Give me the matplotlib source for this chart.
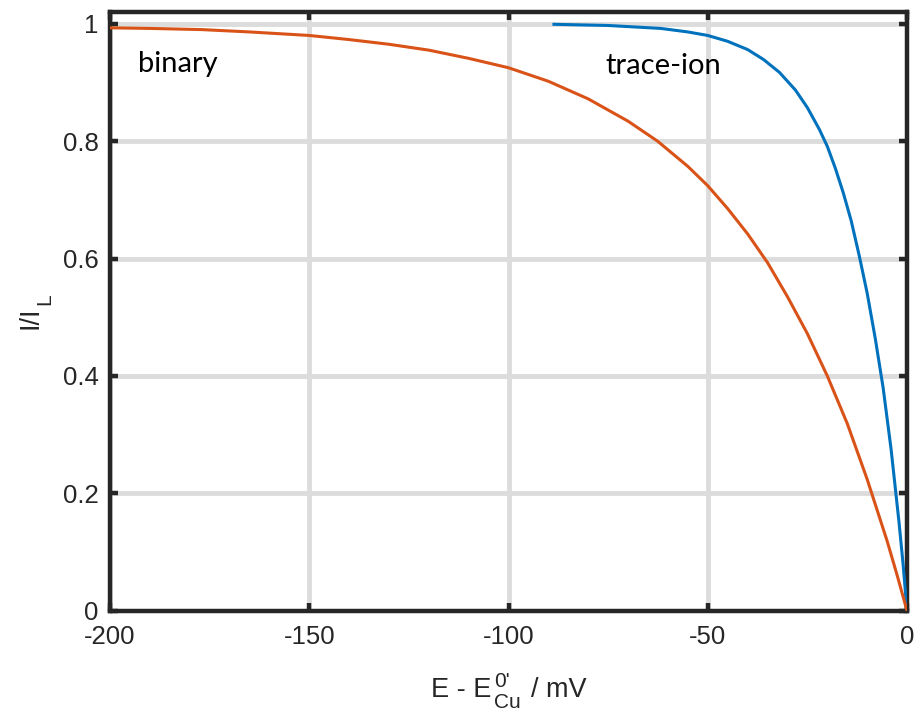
import numpy as np
import matplotlib
matplotlib.use("Agg")
import matplotlib.pyplot as plt
from matplotlib.transforms import IdentityTransform

# curva "binary"
x_bin = [-200, -190, -177, -165, -150, -140, -130, -120, -110, -100, -90, -80, -70,
         -62.6, -55, -50, -45, -40, -35, -30, -25, -20, -15, -10, -5, -2.5, 0]
y_bin = [0.993, 0.992, 0.990, 0.986, 0.980, 0.973, 0.965, 0.955, 0.941, 0.925, 0.902,
         0.872, 0.834, 0.800, 0.757, 0.724, 0.685, 0.642, 0.593, 0.535, 0.472, 0.400,
         0.319, 0.224, 0.119, 0.061, 0.0]

# curva "trace-ion"
x_tr = [-88.6, -75, -61.8, -55, -50, -45, -40, -36, -32, -28, -25, -22, -20, -18,
        -16, -14, -12, -10, -8, -6, -4, -2, -1, 0]
y_tr = [0.999, 0.997, 0.992, 0.986, 0.980, 0.970, 0.956, 0.939, 0.917, 0.887, 0.857,
        0.820, 0.791, 0.754, 0.712, 0.664, 0.605, 0.541, 0.465, 0.380, 0.275, 0.150,
        0.080, 0.0]

xticks = [-200, -150, -100, -50, 0]
yticks = [0, 0.2, 0.4, 0.6, 0.8, 1]
ytick_labels = ['0', '0.2', '0.4', '0.6', '0.8', '1']

plt.rcParams['font.family'] = ['Liberation Sans', 'DejaVu Sans']
plt.rcParams['axes.unicode_minus'] = False

scuro = '#262626'
fs = 18.5    # testo principale
fs_lab = 19.5
fs_pic = 15  # apici / pedici

fig = plt.figure(figsize=(9.15, 7.13), dpi=100)
ax = fig.add_axes([0.1202, 0.1433, 0.8711, 0.8399])

ax.plot(x_tr, y_tr, color='#0072BD', lw=2.2, zorder=3)
ax.plot(x_bin, y_bin, color='#D95319', lw=2.2, zorder=3)

ax.set_xlim(-200, 0)
ax.set_ylim(0, 1.02)
ax.set_xticks(xticks)
ax.set_yticks(yticks)
ax.set_yticklabels(ytick_labels)
ax.grid(True, color='#dcdcdc', lw=3.5)
ax.set_axisbelow(True)

for s in ax.spines.values():
    s.set_linewidth(3.2)
    s.set_color(scuro)
ax.tick_params(direction='in', length=6, width=3.2, color=scuro, labelcolor=scuro,
               labelsize=fs, top=True, right=True)
ax.tick_params(axis='x', pad=10)
ax.tick_params(axis='y', pad=8)

ax.text(-193, 0.918, 'binary', fontsize=21, family=['Lato', 'DejaVu Sans'])
ax.text(-75.7, 0.915, 'trace-ion', fontsize=21, family=['Lato', 'DejaVu Sans'])

# etichette degli assi composte a mano (apici e pedici piu' grandi del mathtext)
fig.canvas.draw()
r = fig.canvas.get_renderer()

def larghezza(s, size):
    t = fig.text(0, 0, s, fontsize=size)
    w = t.get_window_extent(r).width
    t.remove()
    return w

bb = ax.get_window_extent(r)
kw = dict(transform=IdentityTransform(), va='baseline', ha='left', color=scuro)

# asse x: E - E_Cu^0' / mV
w1 = larghezza('E - E', fs_lab)
ws = max(larghezza("0'", fs_pic), larghezza('Cu', fs_pic))
w3 = larghezza('/ mV', fs_lab)
gap1, gap2 = 3, 10
tot = w1 + gap1 + ws + gap2 + w3
x0 = (bb.x0 + bb.x1) / 2 - tot / 2
yb = bb.y0 - 86  # linea di base
fig.text(x0, yb, 'E - E', fontsize=fs_lab, **kw)
fig.text(x0 + w1 + gap1, yb + 10, "0'", fontsize=fs_pic, **kw)
fig.text(x0 + w1 + gap1, yb - 11, 'Cu', fontsize=fs_pic, **kw)
fig.text(x0 + w1 + gap1 + ws + gap2, yb, '/ mV', fontsize=fs_lab, **kw)

# asse y: I/I_L (ruotata)
wI = larghezza('I/I', fs_lab)
wL = larghezza('L', fs_pic)
tot = wI + 1 + wL
y0 = (bb.y0 + bb.y1) / 2 - tot / 2
xb = bb.x0 - 72
fig.text(xb, y0, 'I/I', fontsize=fs_lab, rotation=90, rotation_mode='anchor', **kw)
fig.text(xb + 12, y0 + wI + 1, 'L', fontsize=fs_pic, rotation=90,
         rotation_mode='anchor', **kw)

fig.savefig('out.png', dpi=100)
